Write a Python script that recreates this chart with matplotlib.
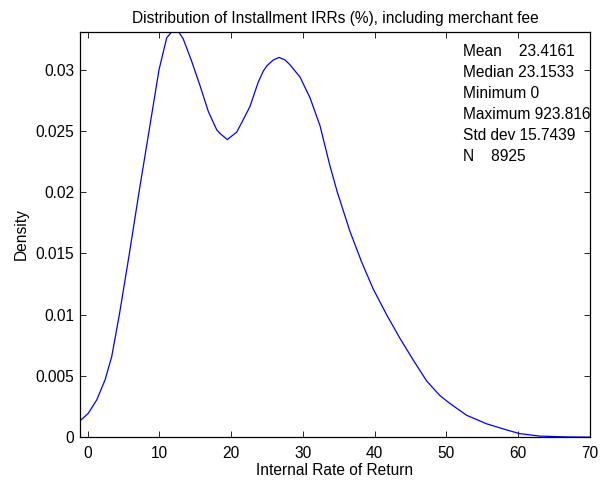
import matplotlib
matplotlib.use("Agg")
import matplotlib.pyplot as plt

# -----------------------
# DATA
# -----------------------
irr = [-1.05, 0.11, 1.28, 2.44, 3.37, 4.43, 5.83, 7.17, 8.57, 9.96,
       11.03, 11.6, 12.19, 12.8, 13.34, 14.5, 15.67, 16.82, 17.99, 18.45,
       19.47, 20.78, 21.94, 22.63, 23.79, 24.5, 24.96, 25.9, 26.7, 27.5,
       28.2, 29.6, 31.0, 32.4, 33.75, 34.8, 36.56, 38.19, 39.8, 41.67,
       43.5, 45.38, 47.24, 49.1, 50.4, 52.8, 55.6, 58.4, 60.2, 63.0,
       66.7, 70.0]
density = [0.00134, 0.00196, 0.00305, 0.00468, 0.00659, 0.0100, 0.0150, 0.0200, 0.0250, 0.0300,
           0.0326, 0.0330, 0.0332, 0.0330, 0.0325, 0.0307, 0.0287, 0.0266, 0.0251, 0.0248,
           0.0243, 0.0249, 0.0262, 0.0270, 0.0290, 0.0299, 0.0303, 0.0308, 0.0310, 0.0308,
           0.0304, 0.0294, 0.0277, 0.0254, 0.0222, 0.0200, 0.0168, 0.0143, 0.0121, 0.0100,
           0.0081, 0.0063, 0.0046, 0.0034, 0.0028, 0.0018, 0.0011, 0.0006, 0.0003, 0.0001,
           0.00003, 0.00001]

stat_names = ["Mean", "Median", "Minimum", "Maximum", "Std dev", "N"]
stat_values = ["23.4161", "23.1533", "0", "923.816", "15.7439", "8925"]
stat_pads = ["    ", " ", " ", " ", " ", "    "]

x_ticks = [0, 10, 20, 30, 40, 50, 60, 70]
y_ticks = [0, 0.005, 0.01, 0.015, 0.02, 0.025, 0.03]
y_labels = ["0", "0.005", "0.01", "0.015", "0.02", "0.025", "0.03"]

# -----------------------
# PLOT
# -----------------------
plt.rcParams["font.family"] = ["Liberation Sans", "DejaVu Sans"]
plt.rcParams["font.size"] = 11.2

fig = plt.figure(figsize=(6, 4.8), dpi=100)
ax = fig.add_axes([80 / 600, 42.7 / 480, 510 / 600, 405.6 / 480])

ax.plot(irr, density, color="#0000ff", linewidth=0.9, solid_joinstyle="round")

ax.set_xlim(-1.05, 70)
ax.set_ylim(0, 0.0331)
ax.set_xticks(x_ticks)
ax.set_yticks(y_ticks)
ax.set_yticklabels(y_labels)
ax.tick_params(direction="in", top=True, right=True, length=4, width=0.6)
ax.tick_params(axis="x", pad=6)
ax.tick_params(axis="y", pad=4)
for sp in ax.spines.values():
    sp.set_linewidth(0.9)

ax.set_xlabel("Internal Rate of Return", labelpad=2)
ax.set_ylabel("Density", labelpad=5)
ax.set_title("Distribution of Installment IRRs (%), including merchant fee",
             fontsize=11.2, pad=6)

for i, (n, v) in enumerate(zip(stat_names, stat_values)):
    ax.text(462.7 / 600, 1 - (51.7 + 21 * i) / 480, n + stat_pads[i] + v,
            transform=fig.transFigure, ha="left", va="center")

fig.savefig("out.png", dpi=100)
